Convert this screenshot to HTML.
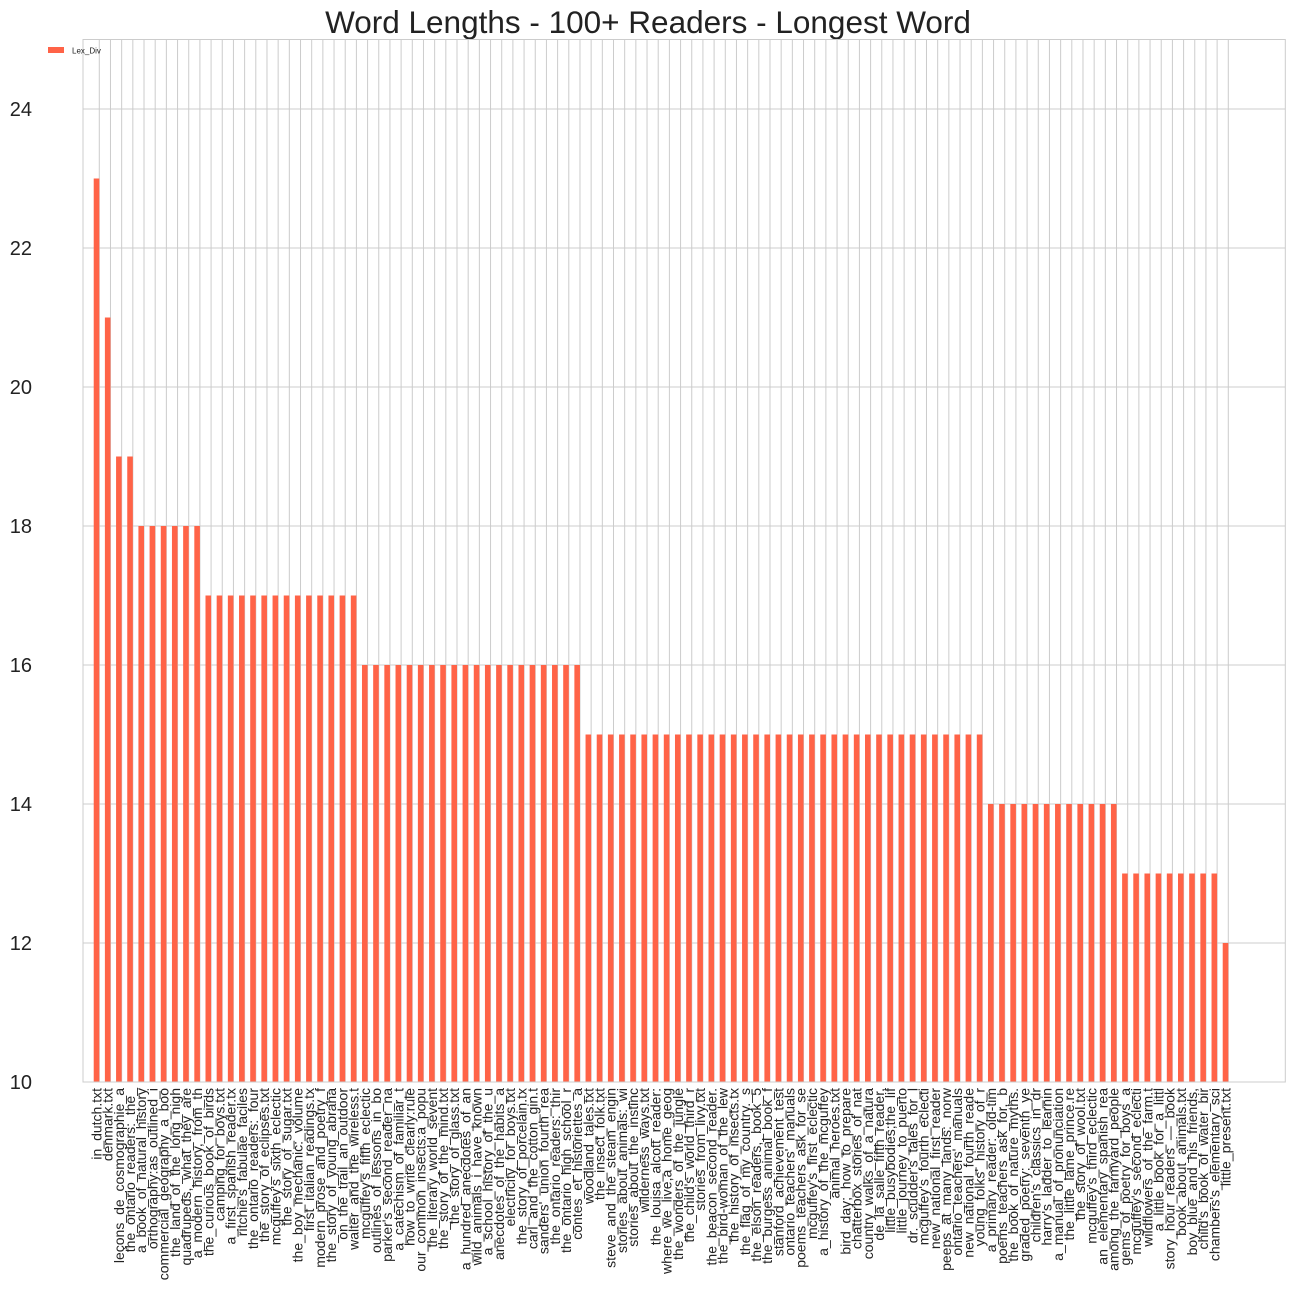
<!DOCTYPE html>
<html><head><meta charset="utf-8"><style>
html,body{margin:0;padding:0;background:#fff}
svg{display:block;font-family:"Liberation Sans",Arial,sans-serif}
</style></head><body>
<svg id="chart" width="1296" height="1296" viewBox="0 0 1296 1296">
<rect width="1296" height="1296" fill="#fff"/>
<text x="648" y="33" text-anchor="middle" font-size="31.5" fill="#222">Word Lengths - 100+ Readers - Longest Word</text>
<g id="grid"></g><g id="bars"></g><g id="xlabels"></g><g id="ylabels"></g>
<rect x="83" y="39.5" width="1202.3" height="1042.5" fill="none" stroke="#cccccc" stroke-width="1"/>
<g>
<rect x="48" y="47" width="16" height="6" fill="#ff6347"/>
<text x="72" y="53.5" font-size="8" fill="#222">Lex_Div</text>
</g>
</svg>
<script>
const categories = ["in_dutch.txt","denmark.txt","leçons_de_cosmographie_a","the_ontario_readers:_the_","a_book_of_natural_history","orthography:as_outlined_i","commercial_geography_a_boo","the_land_of_the_long_nigh","quadrupeds,_what_they_are","a_modern_history,_from_th","the_curious_book_of_birds","camping_for_boys.txt","a_first_spanish_reader.tx","ritchie's_fabulae_faciles","the_ontario_readers:_four","the_story_of_eclipses.txt","mcguffey's_sixth_eclectic","the_story_of_sugar.txt","the_boy_mechanic:_volume","first_italian_readings.tx","modern_prose_and_poetry_f","the_story_of_young_abraha","on_the_trail_an_outdoor","walter_and_the_wireless.t","mcguffey's_fifth_eclectic","outlines_of_lessons_in_bo","parker's_second_reader_na","a_catechism_of_familiar_t","how_to_write_clearly:rule","our_common_insects:a_popu","the_literary_world_sevent","the_story_of_the_mind.txt","the_story_of_glass.txt","a_hundred_anecdotes_of_an","wild_animals_i_have_known","a_school_history_of_the_u","anecdotes_of_the_habits_a","electricity_for_boys.txt","the_story_of_porcelain.tx","carl_and_the_cotton_gin.t","sanders'_union_fourth_rea","the_ontario_readers:_thir","the_ontario_high_school_r","contes_et_historiettes_a","woodland_tales.txt","the_insect_folk.txt","steve_and_the_steam_engin","stories_about_animals:_wi","stories_about_the_instinc","wilderness_ways.txt","the_louisa_alcott_reader:","where_we_live,a_home_geog","the_wonders_of_the_jungle","the_child's_world_third_r","stories_from_livy.txt","the_beacon_second_reader.","the_bird-woman_of_the_lew","the_history_of_insects.tx","the_flag_of_my_country._s","the_elson_readers,_book_5","the_burgess_animal_book_f","stanford_achievement_test","ontario_teachers'_manuals","poems_teachers_ask_for_se","mcguffey's_first_eclectic","a_history_of_the_mcguffey","animal_heroes.txt","bird_day;_how_to_prepare","chatterbox_stories_of_nat","country_walks_of_a_natura","de_la_salle_fifth_reader,","little_busybodies;the_lif","little_journey_to_puerto","dr._scudder's_tales_for_l","mcguffey's_fourth_eclecti","new_national_first_reader","peeps_at_many_lands:_norw","ontario_teachers'_manuals","new_national_fourth_reade","young_folks'_history_of_r","a_primary_reader:_old-tim","poems_teachers_ask_for,_b","the_book_of_nature_myths.","graded_poetry:_seventh_ye","children's_classics_in_dr","harry's_ladder_to_learnin","a_manual_of_pronunciation","the_little_lame_prince.re","the_story_of_wool.txt","mcguffey's_third_eclectic","an_elementary_spanish_rea","among_the_farmyard_people","gems_of_poetry_for_boys_a","mcguffey's_second_eclecti","wildflowers_of_the_farm.t","a_little_book_for_a_littl","story_hour_readers_—_book","book_about_animals.txt","boy_blue_and_his_friends,","child's_book_of_water_bir","chambers's_elementary_sci","little_present.txt"];
const values = [23,21,19,19,18,18,18,18,18,18,
17,17,17,17,17,17,17,17,17,17,17,17,17,17,
16,16,16,16,16,16,16,16,16,16,16,16,16,16,16,16,16,16,16,16,
15,15,15,15,15,15,15,15,15,15,15,15,15,15,15,15,15,15,15,15,15,15,15,15,15,15,15,15,15,15,15,15,15,15,15,15,
14,14,14,14,14,14,14,14,14,14,14,14,
13,13,13,13,13,13,13,13,13,
12];
const yTicks = [10,12,14,16,18,20,22,24];

const NS = "http://www.w3.org/2000/svg";
const yMin = 10, yMax = 25, plotTop = 39.5, plotBottom = 1082;
function yScale(v){ return plotBottom - (v - yMin) / (yMax - yMin) * (plotBottom - plotTop); }
const tick0 = 99.3, step = (1228.3 - 99.3) / 101;
function xScale(i){ return tick0 + i * step; }
const barW = step * 0.5;

const grid = document.getElementById('grid');
const bars = document.getElementById('bars');
const xl = document.getElementById('xlabels');
const yl = document.getElementById('ylabels');

yTicks.forEach(t => {
  const y = yScale(t);
  const ln = document.createElementNS(NS,'line');
  ln.setAttribute('x1',83); ln.setAttribute('x2',1285.3);
  ln.setAttribute('y1',y); ln.setAttribute('y2',y);
  ln.setAttribute('stroke','#cccccc'); ln.setAttribute('stroke-width','1');
  
  
  grid.appendChild(ln);
  const tx = document.createElementNS(NS,'text');
  tx.setAttribute('x',32); tx.setAttribute('y',y+7);
  tx.setAttribute('text-anchor','end'); tx.setAttribute('font-size','20'); tx.setAttribute('fill','#222');
  tx.textContent = t;
  
  
  yl.appendChild(tx);
});

categories.forEach((c,i) => {
  const x = xScale(i);
  const ln = document.createElementNS(NS,'line');
  ln.setAttribute('x1',x); ln.setAttribute('x2',x);
  ln.setAttribute('y1',plotTop); ln.setAttribute('y2',plotBottom);
  ln.setAttribute('stroke','#cccccc'); ln.setAttribute('stroke-width','1');
  
  
  grid.appendChild(ln);

  const r = document.createElementNS(NS,'rect');
  const y = yScale(values[i]);
  r.setAttribute('x', x - barW); r.setAttribute('width', barW);
  r.setAttribute('y', y); r.setAttribute('height', plotBottom - y);
  r.setAttribute('fill','#ff6347');
  
  
  bars.appendChild(r);

  const tx = document.createElementNS(NS,'text');
  tx.setAttribute('transform', 'translate(' + (x - barW/2 + 5) + ',1088) rotate(-90)');
  tx.setAttribute('text-anchor','end');
  tx.setAttribute('font-size','14'); tx.setAttribute('fill','#222');
  tx.textContent = c;
  
  
  xl.appendChild(tx);
});
</script>
</body></html>
